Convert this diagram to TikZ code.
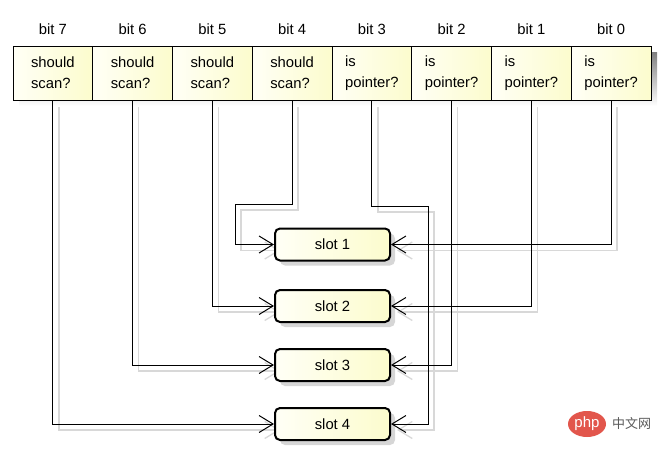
\documentclass[tikz,border=0pt]{standalone}
\usepackage{fontspec}
\setmainfont{Liberation Sans}
\newfontfamily\cjkfont{Noto Sans CJK SC}
\usetikzlibrary{arrows.meta,shadows,shapes.geometric,backgrounds}
\definecolor{cellA}{RGB}{255,255,246}
\definecolor{cellB}{RGB}{252,252,205}
\definecolor{shade}{RGB}{214,214,214}
\definecolor{lineshade}{RGB}{216,216,216}
\definecolor{phpred}{RGB}{226,86,76}
\tikzset{
  cell/.style={draw=black, line width=0.8pt, left color=cellA, right color=cellB,
    minimum width=79.75pt, minimum height=54pt, inner sep=0pt, align=left,
    font=\fontsize{14.8}{21}\selectfont},
  bitlabel/.style={font=\fontsize{14.8}{16}\selectfont, inner sep=0pt},
  slotbox/.style={draw=black, line width=2pt, rounded corners=5pt, left color=cellA, right color=cellB,
    minimum width=115pt, minimum height=32pt, inner sep=0pt, font=\fontsize{14.8}{16}\selectfont,
    drop shadow={shadow xshift=5pt, shadow yshift=-5pt, fill=shade, opacity=1}},
  conn/.style={draw=black, line width=1pt, -{Straight Barb[length=14pt, width=17pt, line width=1pt]}},
  connshade/.style={draw=lineshade, line width=1.3pt, -{Straight Barb[length=14pt, width=17pt, line width=1.3pt]}},
}
\begin{document}
\begin{tikzpicture}[x=1pt, y=-1pt]
\useasboundingbox (0,0) rectangle (664,453);
% shadow of register row
\fill[shade] (19,52) rectangle (657,106);
% cells
\foreach \i/\t [count=\k from 0] in {7/{should\\scan?},6/{should\\scan?},5/{should\\scan?},4/{should\\scan?},3/{is\\pointer?},2/{is\\pointer?},1/{is\\pointer?},0/{is\\pointer?}}{
  \node[cell] (c\i) at ({13+79.75*\k+39.875},73) {\t};
  \node[bitlabel] (b\i) at ({13+79.75*\k+39.875},29) {bit \i};
}
% slots
\node[slotbox] (s1) at (332.5,244.5) {slot 1};
\node[slotbox] (s2) at (332.5,306) {slot 2};
\node[slotbox] (s3) at (332.5,365) {slot 3};
\node[slotbox] (s4) at (332.5,424) {slot 4};
% connector shadows
\begin{scope}[on background layer]
\begin{scope}[transform canvas={shift={(6pt,-6pt)}}]
\draw[connshade] (c7.south) |- (s4.west);
\draw[connshade] (c6.south) |- (s3.west);
\draw[connshade] (c5.south) |- (s2.west);
\draw[connshade] (c4.south) |- (235,204) |- (s1.west);
\draw[connshade] (c3.south) |- (428,206) |- (s4.east);
\draw[connshade] (c2.south) |- (s3.east);
\draw[connshade] (c1.south) |- (s2.east);
\draw[connshade] (c0.south) |- (s1.east);
\end{scope}
\end{scope}
% connectors
\draw[conn] (c7.south) |- (s4.west);
\draw[conn] (c6.south) |- (s3.west);
\draw[conn] (c5.south) |- (s2.west);
\draw[conn] (c4.south) |- (235,204) |- (s1.west);
\draw[conn] (c3.south) |- (428,206) |- (s4.east);
\draw[conn] (c2.south) |- (s3.east);
\draw[conn] (c1.south) |- (s2.east);
\draw[conn] (c0.south) |- (s1.east);
% watermark
\node[ellipse, fill=phpred, minimum width=38pt, minimum height=26pt, inner sep=0pt, text=white,
  font=\fontsize{15}{16}\selectfont] (php) at (587,424) {php};
\node[text=black!65, font=\cjkfont\fontsize{13}{15}\selectfont, inner sep=0pt, anchor=west] (cn) at (612,424) {中文网};
\end{tikzpicture}
\end{document}
